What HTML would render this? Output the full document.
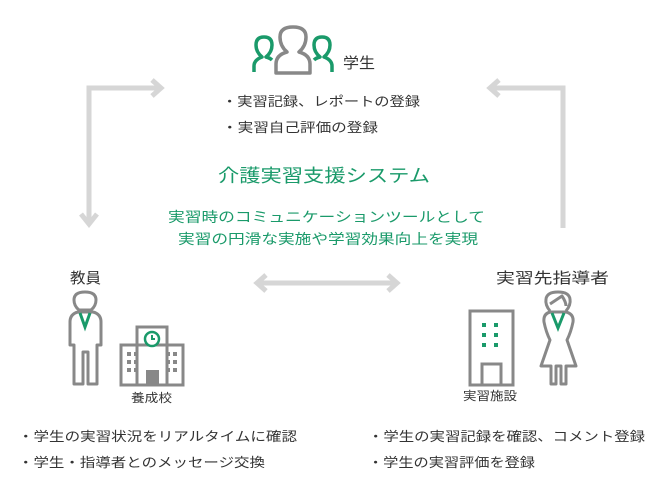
<!DOCTYPE html>
<html><head><meta charset="utf-8"><style>
html,body{margin:0;padding:0;background:#fff}
svg text{font-family:"Liberation Sans","Noto Sans CJK JP",sans-serif}
</style></head><body>
<svg width="650" height="480" viewBox="0 0 650 480" xmlns="http://www.w3.org/2000/svg">
<g stroke="#d6d6d6" stroke-width="5" fill="none">
<polyline points="89,222 89,88 158,88"/>
<polyline points="152,80 161,88 152,96"/>
<polyline points="81,214 89,224 97,214"/>
<polyline points="563,228 563,88 493,88"/>
<polyline points="499,80 490,88 499,96"/>
<line x1="258" y1="283" x2="396" y2="283"/>
<polyline points="266,275 257,283 266,291"/>
<polyline points="388,275 397,283 388,291"/>
</g>
<g fill="none" stroke-width="3.5" stroke-linejoin="round">
<path d="M254,72 V66 Q254,60 262,57 Q256,52 256,45 Q256,37 264,37 Q272,37 272,45 Q272,52 266,57 Q270,58 272,60" stroke="#1a9a6a"/>
<path d="M332,72 V66 Q332,60 324,57 Q330,52 330,45 Q330,37 322,37 Q314,37 314,45 Q314,52 320,57 Q316,58 314,60" stroke="#1a9a6a"/>
<path d="M276,73 V64 Q276,55 287,52 Q280,46 280,37 Q280,27 293,27 Q306,27 306,37 Q306,46 299,52 Q310,55 310,64 V73 Z" stroke="#888"/>
</g>
<text x="343" y="68" font-size="15" fill="#333" textLength="32" lengthAdjust="spacingAndGlyphs">学生</text>
<text x="222" y="106" font-size="13" fill="#333" textLength="198" lengthAdjust="spacingAndGlyphs">・実習記録、レポートの登録</text>
<text x="222" y="132" font-size="13" fill="#333" textLength="156" lengthAdjust="spacingAndGlyphs">・実習自己評価の登録</text>
<text x="218" y="182" font-size="18" fill="#1a9a6a" textLength="212" lengthAdjust="spacingAndGlyphs">介護実習支援システム</text>
<text x="168" y="222" font-size="14" fill="#1a9a6a" textLength="317" lengthAdjust="spacingAndGlyphs">実習時のコミュニケーションツールとして</text>
<text x="178" y="244" font-size="14" fill="#1a9a6a" textLength="300" lengthAdjust="spacingAndGlyphs">実習の円滑な実施や学習効果向上を実現</text>
<text x="70" y="283" font-size="15" fill="#333" textLength="31" lengthAdjust="spacingAndGlyphs">教員</text>
<text x="496" y="283" font-size="15" fill="#333" textLength="113" lengthAdjust="spacingAndGlyphs">実習先指導者</text>
<g fill="none" stroke="#888" stroke-width="3" stroke-linejoin="round">
<path d="M79,310 Q74,306 74,300 Q74,292 85,292 Q96,292 96,300 Q96,306 91,310 Z"/>
<path d="M78,312 Q70,314 70,322 V345 H74 V384 H83 V352 H88 V384 H97 V345 H101 V322 Q101,314 93,312 Z"/>
</g>
<path d="M80,313 L85,327 L90,313" stroke="#1a9a6a" stroke-width="3" fill="none"/>
<g fill="none" stroke="#888" stroke-width="3">
<rect x="121" y="345" width="62" height="40"/>
<rect x="137" y="327" width="30" height="58"/>
</g>
<circle cx="152" cy="339" r="7" fill="#fff" stroke="#1a9a6a" stroke-width="2.5"/>
<path d="M152,335 V339 H155" stroke="#1a9a6a" stroke-width="2" fill="none"/>
<g fill="#888">
<rect x="127" y="352" width="4" height="4"/><rect x="134" y="352" width="4" height="4"/>
<rect x="127" y="360" width="4" height="4"/><rect x="134" y="360" width="4" height="4"/>
<rect x="127" y="368" width="4" height="4"/><rect x="134" y="368" width="4" height="4"/>
<rect x="166" y="352" width="4" height="4"/><rect x="173" y="352" width="4" height="4"/>
<rect x="166" y="360" width="4" height="4"/><rect x="173" y="360" width="4" height="4"/>
<rect x="166" y="368" width="4" height="4"/><rect x="173" y="368" width="4" height="4"/>
<rect x="146" y="370" width="13" height="15"/>
</g>
<text x="131" y="402" font-size="12" fill="#333" textLength="41" lengthAdjust="spacingAndGlyphs">養成校</text>
<g fill="none" stroke="#888" stroke-width="3">
<rect x="470" y="311" width="43" height="74"/>
<rect x="482" y="364" width="19" height="21"/>
</g>
<g fill="#1a9a6a">
<rect x="482" y="323" width="4" height="4"/><rect x="494" y="323" width="4" height="4"/>
<rect x="482" y="333" width="4" height="4"/><rect x="494" y="333" width="4" height="4"/>
<rect x="482" y="343" width="4" height="4"/><rect x="494" y="343" width="4" height="4"/>
</g>
<text x="463" y="400" font-size="12" fill="#333" textLength="54" lengthAdjust="spacingAndGlyphs">実習施設</text>
<g fill="none" stroke="#888" stroke-width="3" stroke-linejoin="round">
<path d="M550,311 Q545,305 546,299 Q547,292 558,292 Q569,292 570,299 Q571,305 566,311"/>
<path d="M550,304 Q556,300 562,296 Q566,302 566,306" />
<path d="M550,312 Q543,314 544,322 Q546,332 550,340 L541,366 H551 V384 H556 V366 H561 V384 H566 V366 H576 L567,340 Q571,332 573,322 Q574,314 566,312 Z"/>
</g>
<path d="M552,313 L558,328 L564,313" stroke="#1a9a6a" stroke-width="3" fill="none"/>
<text x="18" y="441" font-size="13" fill="#333" textLength="279" lengthAdjust="spacingAndGlyphs">・学生の実習状況をリアルタイムに確認</text>
<text x="18" y="467" font-size="13" fill="#333" textLength="247" lengthAdjust="spacingAndGlyphs">・学生・指導者とのメッセージ交換</text>
<text x="368" y="441" font-size="13" fill="#333" textLength="277" lengthAdjust="spacingAndGlyphs">・学生の実習記録を確認、コメント登録</text>
<text x="368" y="467" font-size="13" fill="#333" textLength="167" lengthAdjust="spacingAndGlyphs">・学生の実習評価を登録</text>
</svg>
</body></html>
